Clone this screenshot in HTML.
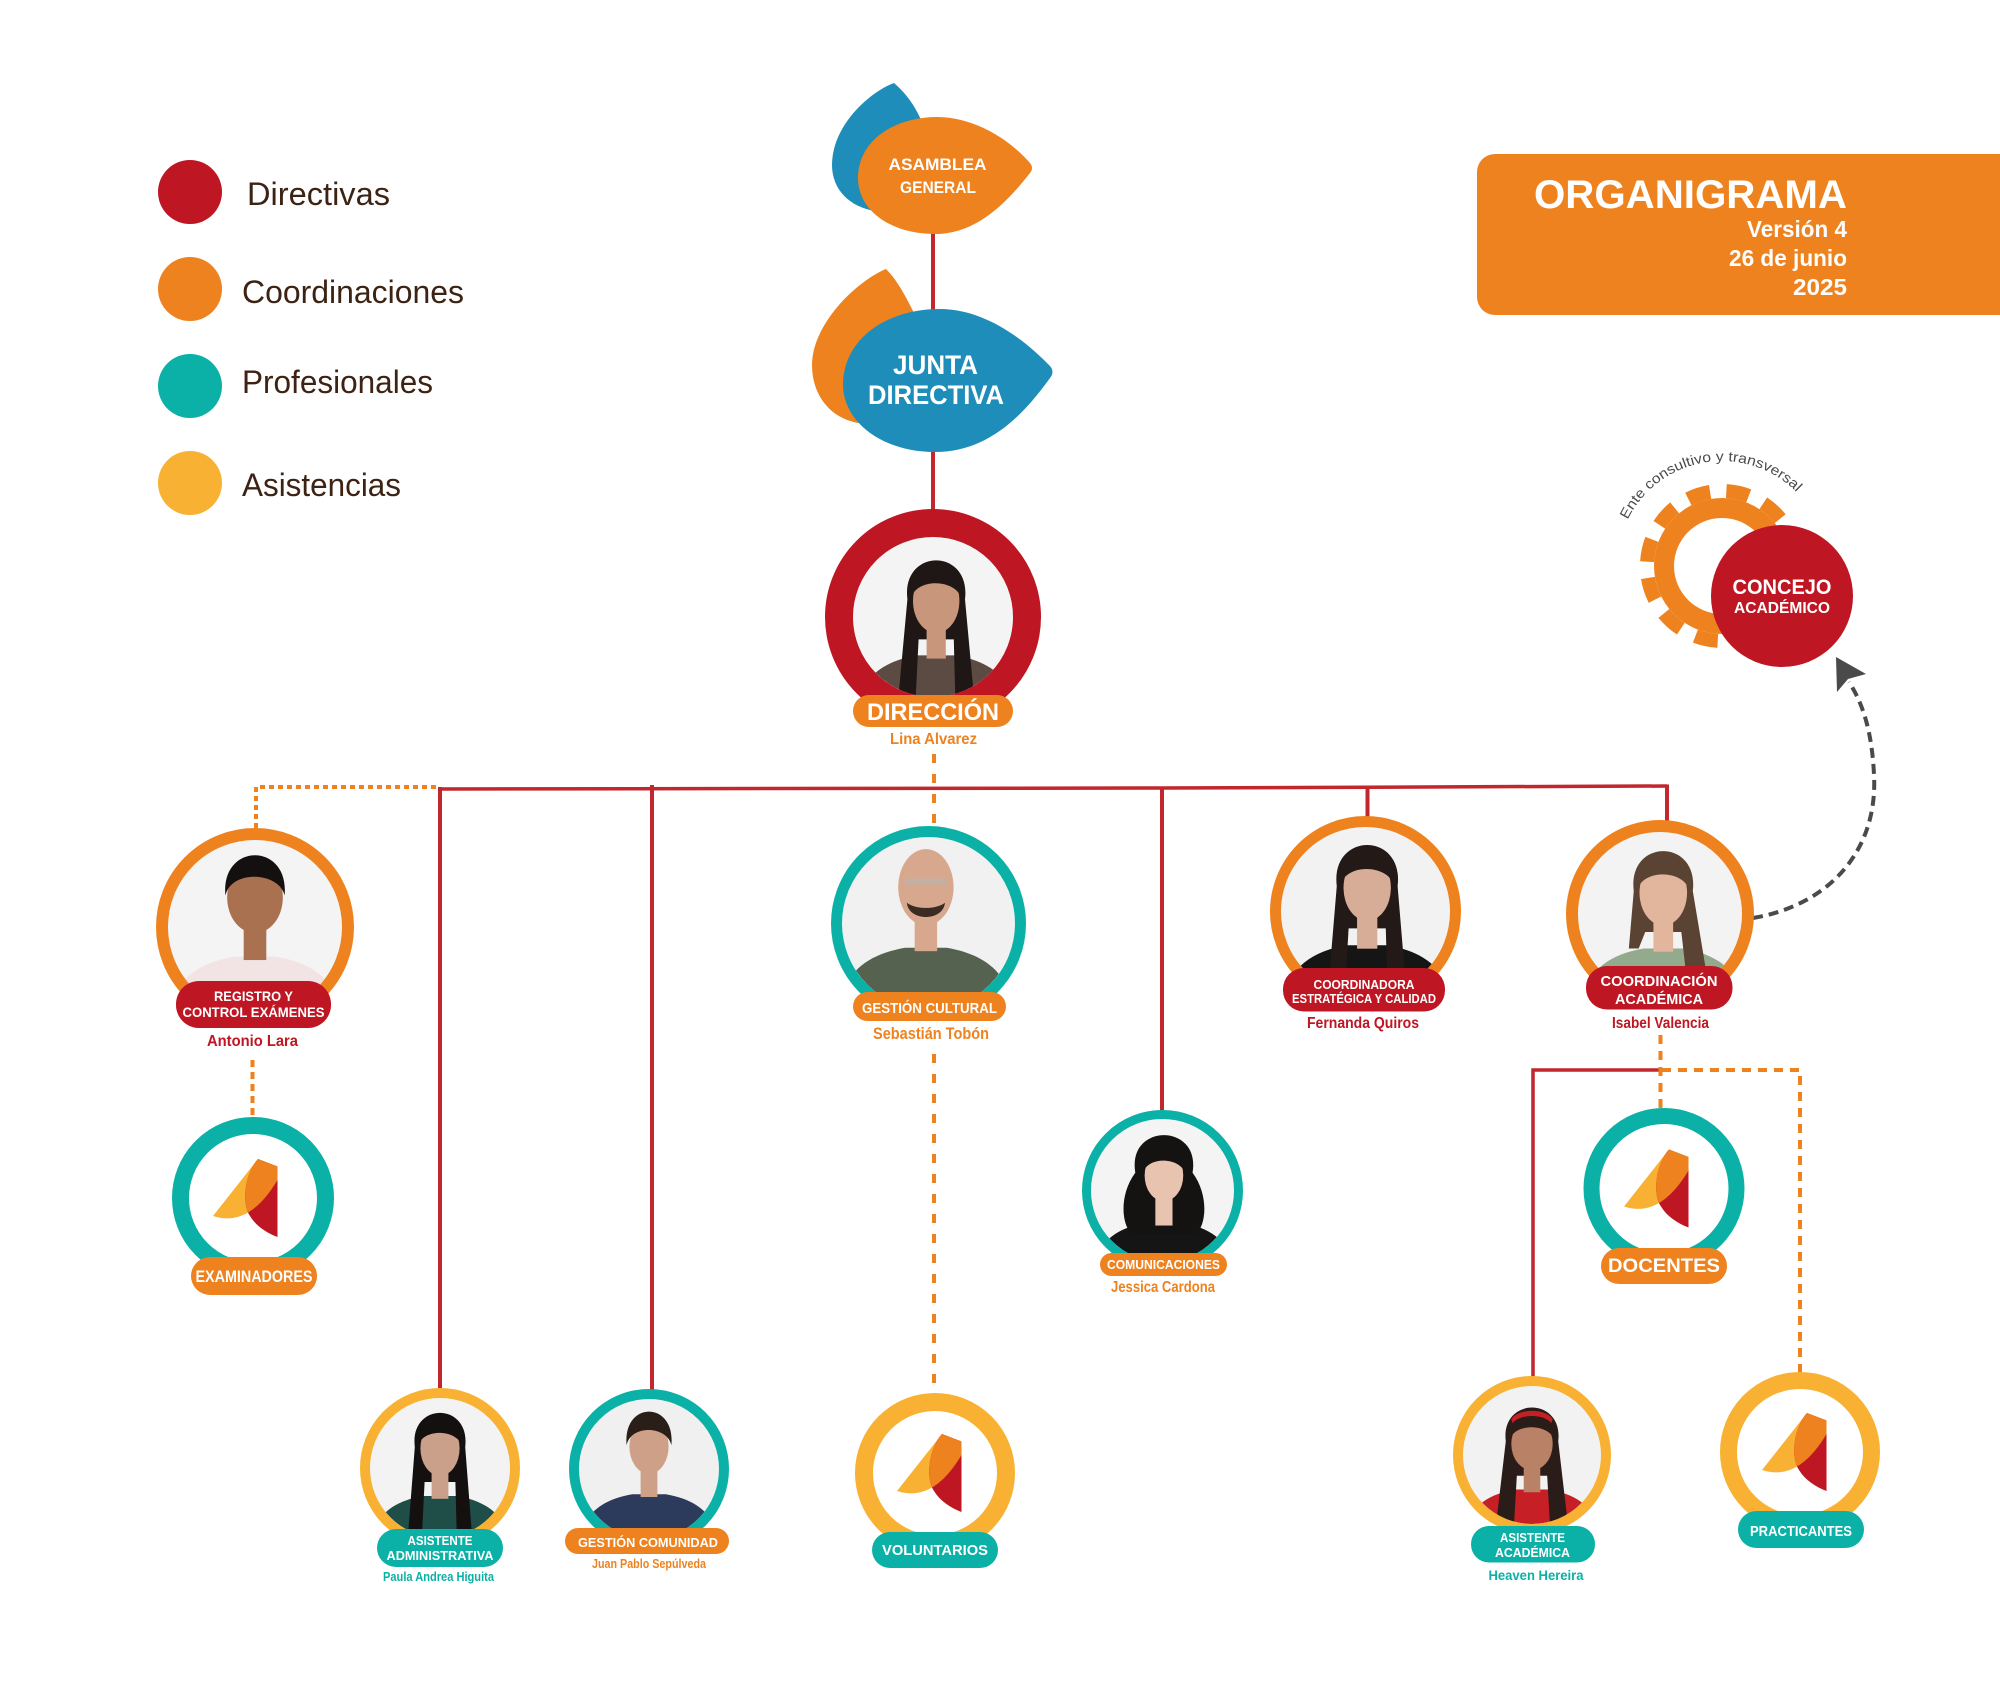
<!DOCTYPE html>
<html>
<head>
<meta charset="utf-8">
<style>
html,body{margin:0;padding:0;background:#fff;}
body{width:2000px;height:1681px;overflow:hidden;}
svg{display:block;}
.b{font-family:"Liberation Sans",sans-serif;font-weight:700;}
.r{font-family:"Liberation Sans",sans-serif;font-weight:400;}
</style>
</head>
<body>
<svg width="2000" height="1681" viewBox="0 0 2000 1681" xmlns="http://www.w3.org/2000/svg">
<defs>
  <clipPath id="pc"><circle cx="0" cy="0" r="100"/></clipPath>
  <clipPath id="ly"><path d="M5,-39 L-40,18 Q-4,30 24.5,-18 L24.5,-31.5 Z"/></clipPath>
  <g id="logo">
    <path d="M5,-39 L-40,18 Q-4,30 24.5,-18 L24.5,-31.5 Z" fill="#F8B133"/>
    <path d="M5,-39 C-8,-25 -12,5 -3,18 C3,28 14,35 24.5,39 L24.5,-31.5 Z" fill="#BE1622"/>
    <path d="M5,-39 C-8,-25 -12,5 -3,18 C3,28 14,35 24.5,39 L24.5,-31.5 Z" fill="#EE821E" clip-path="url(#ly)"/>
  </g>
  <path id="arc" d="M1626.8,521.6 A105,105 0 0 1 1797.5,493.1" fill="none"/>
</defs>

<!-- LEGEND -->
<circle cx="190" cy="192" r="32" fill="#BE1622"/>
<circle cx="190" cy="289" r="32" fill="#EE821E"/>
<circle cx="190" cy="386" r="32" fill="#0BB1A6"/>
<circle cx="190" cy="483" r="32" fill="#F8B133"/>
<g class="r" font-size="32" fill="#3C2314">
  <text x="247" y="205" textLength="143" lengthAdjust="spacingAndGlyphs">Directivas</text>
  <text x="242" y="303" textLength="222" lengthAdjust="spacingAndGlyphs">Coordinaciones</text>
  <text x="242" y="393" textLength="191" lengthAdjust="spacingAndGlyphs">Profesionales</text>
  <text x="242" y="496" textLength="159" lengthAdjust="spacingAndGlyphs">Asistencias</text>
</g>

<!-- TITLE BOX -->
<rect x="1477" y="154" width="600" height="161" rx="18" fill="#EE821E"/>
<g class="b" fill="#fff">
  <text x="1534" y="208" font-size="40" textLength="313" lengthAdjust="spacingAndGlyphs">ORGANIGRAMA</text>
  <text x="1847" y="237" font-size="23" text-anchor="end" textLength="100" lengthAdjust="spacingAndGlyphs">Versión 4</text>
  <text x="1847" y="266" font-size="23" text-anchor="end" textLength="118" lengthAdjust="spacingAndGlyphs">26 de junio</text>
  <text x="1847" y="295" font-size="23" text-anchor="end" textLength="54" lengthAdjust="spacingAndGlyphs">2025</text>
</g>

<!-- CONNECTORS -->
<g fill="none" stroke-linecap="butt">
  <line x1="933" y1="230" x2="933" y2="515" stroke="#C1272D" stroke-width="4"/>
  <polyline points="438,789 1162,788 1667,786" stroke="#C1272D" stroke-width="3.5"/>
  <line x1="440" y1="787" x2="440" y2="1390" stroke="#C1272D" stroke-width="4"/>
  <line x1="652" y1="785" x2="652" y2="1390" stroke="#C1272D" stroke-width="4"/>
  <line x1="1162" y1="788" x2="1162" y2="1112" stroke="#C1272D" stroke-width="4"/>
  <line x1="1367.5" y1="786" x2="1367.5" y2="818" stroke="#C1272D" stroke-width="4"/>
  <line x1="1667" y1="784.5" x2="1667" y2="822" stroke="#C1272D" stroke-width="4"/>
  <polyline points="1660,1070 1533,1070 1533,1378" stroke="#C1272D" stroke-width="3.5"/>

  <polyline points="436,787 256,787 256,830" stroke="#EE821E" stroke-width="4" stroke-dasharray="5 4"/>
  <line x1="252.5" y1="1060" x2="252.5" y2="1118" stroke="#EE821E" stroke-width="4" stroke-dasharray="7 5"/>
  <line x1="934" y1="754" x2="934" y2="827" stroke="#EE821E" stroke-width="4" stroke-dasharray="9 11"/>
  <line x1="934" y1="1054" x2="934" y2="1394" stroke="#EE821E" stroke-width="4" stroke-dasharray="9 11"/>
  <line x1="1660.5" y1="1035" x2="1660.5" y2="1109" stroke="#EE821E" stroke-width="4" stroke-dasharray="9 7"/>
  <polyline points="1662,1070 1800,1070 1800,1392" stroke="#EE821E" stroke-width="4" stroke-dasharray="9 7"/>

  <path d="M1753,918 C1830,905 1878,850 1874,775 C1872,730 1862,702 1849,682" stroke="#4a4a4a" stroke-width="4" stroke-dasharray="10 6"/>
</g>
<polygon points="1836,657 1866,674 1848,679 1837,692" fill="#4a4a4a"/>

<!-- ASAMBLEA -->
<path d="M894,83 C870,92 832,125 832,165 C832,190 850,207 875,211 L930,200 L925,130 C918,110 908,95 894,83 Z" fill="#1E8DBA"/>
<path d="M937,117 C975,117 1010,140 1030,163 Q1034,168 1030,173 C1005,205 975,234 935,234 C890,234 858,210 858,178 C858,140 895,117 937,117 Z" fill="#EE821E"/>
<g class="b" fill="#fff" font-size="16.5" text-anchor="middle">
  <text x="937.5" y="170" textLength="98" lengthAdjust="spacingAndGlyphs">ASAMBLEA</text>
  <text x="938" y="193" textLength="76" lengthAdjust="spacingAndGlyphs">GENERAL</text>
</g>

<!-- JUNTA -->
<path d="M886,269 C855,282 812,325 812,365 C812,395 830,418 858,423 L920,410 L915,315 C905,295 897,280 886,269 Z" fill="#EE821E"/>
<path d="M940,309 C985,309 1025,340 1050,366 Q1055,372 1050,378 C1020,420 985,452 935,452 C880,452 843,420 843,385 C843,340 885,309 940,309 Z" fill="#1E8DBA"/>
<g class="b" fill="#fff" font-size="27" text-anchor="middle">
  <text x="935.5" y="374" textLength="85" lengthAdjust="spacingAndGlyphs">JUNTA</text>
  <text x="936" y="404" textLength="136" lengthAdjust="spacingAndGlyphs">DIRECTIVA</text>
</g>

<!-- GEAR + CONCEJO -->
<circle cx="1722" cy="566" r="68" fill="#EE821E"/>
<circle cx="1722" cy="566" r="75" fill="none" stroke="#EE821E" stroke-width="14" stroke-dasharray="22.9 16.37" stroke-dashoffset="-4.25"/>
<circle cx="1722" cy="566" r="48" fill="#fff"/>
<circle cx="1782" cy="596" r="71" fill="#BE1622"/>
<g class="b" fill="#fff" text-anchor="middle">
  <text x="1782" y="594" font-size="21" textLength="99" lengthAdjust="spacingAndGlyphs">CONCEJO</text>
  <text x="1782" y="613" font-size="16" textLength="96" lengthAdjust="spacingAndGlyphs">ACADÉMICO</text>
</g>
<text class="r" font-size="14" fill="#4a4a4a"><textPath href="#arc" startOffset="2" textLength="200" lengthAdjust="spacingAndGlyphs">Ente consultivo y transversal</textPath></text>

<!-- ===== PHOTO NODES ===== -->

<!-- DIRECCION: Lina -->
<g transform="translate(933,617) scale(0.8)"><g clip-path="url(#pc)">
  <rect x="-100" y="-100" width="200" height="200" fill="#f4f4f4"/>
  <g transform="translate(4,8)">
    <path d="M-100,110 C-95,70 -70,48 -24,40 L24,40 C70,48 95,70 100,110 Z" fill="#5b4b43"/>
    <path d="M-36,-30 C-44,-95 44,-95 36,-30 L48,100 L24,100 L22,20 L-22,20 L-26,100 L-48,100 Z" fill="#1e1715"/>
    <rect x="-12" y="0" width="24" height="44" fill="#c8977b"/>
    <ellipse cx="0" cy="-28" rx="29" ry="40" fill="#c8977b"/>
    <path d="M-32,-30 C-36,-88 36,-88 32,-30 C26,-56 -26,-58 -32,-30 Z" fill="#1e1715"/>
  </g>
</g></g>
<circle cx="933" cy="617" r="94" fill="none" stroke="#BE1622" stroke-width="28"/>

<!-- REGISTRO: Antonio -->
<g transform="translate(255,927) scale(0.87)"><g clip-path="url(#pc)">
  <rect x="-100" y="-100" width="200" height="200" fill="#f4f4f4"/>
  <g transform="translate(0,-6)">
    <path d="M-100,110 C-95,70 -70,48 -24,40 L24,40 C70,48 95,70 100,110 Z" fill="#f2e4e4"/>
    <rect x="-13" y="0" width="26" height="44" fill="#a9714f"/>
    <ellipse cx="0" cy="-28" rx="32" ry="41" fill="#a9714f"/>
    <path d="M-34,-30 C-40,-92 40,-92 34,-30 C28,-58 -28,-60 -34,-30 Z" fill="#151010"/>
  </g>
</g></g>
<circle cx="255" cy="927" r="93" fill="none" stroke="#EE821E" stroke-width="12"/>

<!-- GESTION CULTURAL: Sebastian -->
<g transform="translate(928.5,923.5) scale(0.865)"><g clip-path="url(#pc)">
  <rect x="-100" y="-100" width="200" height="200" fill="#f1f1f1"/>
  <g transform="translate(-3,-12)">
    <path d="M-100,110 C-95,70 -70,48 -24,40 L24,40 C70,48 95,70 100,110 Z" fill="#55624f"/>
    <rect x="-13" y="0" width="26" height="44" fill="#d7a88e"/>
    <ellipse cx="0" cy="-30" rx="32" ry="44" fill="#d7a88e"/>
    <path d="M-22,-12 C-20,10 20,10 22,-12 C12,-4 -12,-4 -22,-12 Z" fill="#3b2b22"/>
    <rect x="-24" y="-40" width="48" height="7" fill="#b9b3ad" opacity="0.7"/>
  </g>
</g></g>
<circle cx="928.5" cy="923.5" r="92" fill="none" stroke="#0BB1A6" stroke-width="11"/>

<!-- COMUNICACIONES: Jessica -->
<g transform="translate(1162.5,1190.5) scale(0.715)"><g clip-path="url(#pc)">
  <rect x="-100" y="-100" width="200" height="200" fill="#f4f4f4"/>
  <g transform="translate(2,5)">
    <path d="M-100,110 C-95,70 -70,48 -24,40 L24,40 C70,48 95,70 100,110 Z" fill="#151515"/>
    <path d="M-40,-30 C-52,-100 52,-100 40,-30 C62,0 60,40 46,55 L-46,55 C-60,40 -62,0 -40,-30 Z" fill="#151212"/>
    <rect x="-12" y="0" width="24" height="44" fill="#e8c3b0"/>
    <ellipse cx="0" cy="-26" rx="27" ry="36" fill="#e8c3b0"/>
    <path d="M-30,-28 C-34,-86 34,-86 30,-28 C24,-52 -24,-54 -30,-28 Z" fill="#151212"/>
  </g>
</g></g>
<circle cx="1162.5" cy="1190.5" r="76" fill="none" stroke="#0BB1A6" stroke-width="9"/>

<!-- COORDINADORA: Fernanda -->
<g transform="translate(1365.5,911.5) scale(0.845)"><g clip-path="url(#pc)">
  <rect x="-100" y="-100" width="200" height="200" fill="#f2f2f2"/>
  <g transform="translate(2,0)">
    <path d="M-100,110 C-95,70 -70,48 -24,40 L24,40 C70,48 95,70 100,110 Z" fill="#151515"/>
    <path d="M-36,-30 C-44,-95 44,-95 36,-30 L46,90 L24,90 L22,20 L-22,20 L-26,90 L-46,90 Z" fill="#231a18"/>
    <rect x="-12" y="0" width="24" height="44" fill="#d8ad97"/>
    <ellipse cx="0" cy="-28" rx="28" ry="39" fill="#d8ad97"/>
    <path d="M-32,-30 C-36,-88 36,-88 32,-30 C26,-56 -26,-58 -32,-30 Z" fill="#231a18"/>
  </g>
</g></g>
<circle cx="1365.5" cy="911.5" r="90" fill="none" stroke="#EE821E" stroke-width="11"/>

<!-- COORDINACION ACADEMICA: Isabel -->
<g transform="translate(1660,914) scale(0.82)"><g clip-path="url(#pc)">
  <rect x="-100" y="-100" width="200" height="200" fill="#f3f3f3"/>
  <g transform="translate(4,2)">
    <path d="M-100,110 C-95,70 -70,48 -24,40 L24,40 C70,48 95,70 100,110 Z" fill="#94aa8c"/>
    <path d="M-36,-30 C-44,-95 44,-95 36,-30 L56,90 L30,90 L22,20 L-22,20 L-30,40 L-42,40 Z" fill="#5b4333"/>
    <rect x="-12" y="0" width="24" height="44" fill="#e2b59d"/>
    <ellipse cx="0" cy="-28" rx="29" ry="40" fill="#e2b59d"/>
    <path d="M-32,-30 C-36,-88 36,-88 32,-30 C26,-56 -26,-58 -32,-30 Z" fill="#5b4333"/>
  </g>
</g></g>
<circle cx="1660" cy="914" r="88" fill="none" stroke="#EE821E" stroke-width="12"/>

<!-- ASISTENTE ADMIN: Paula -->
<g transform="translate(440,1468) scale(0.70)"><g clip-path="url(#pc)">
  <rect x="-100" y="-100" width="200" height="200" fill="#f3f3f3"/>
  <g transform="translate(0,0)">
    <path d="M-100,110 C-95,70 -70,48 -24,40 L24,40 C70,48 95,70 100,110 Z" fill="#1f4d47"/>
    <path d="M-36,-30 C-44,-95 44,-95 36,-30 L46,100 L24,100 L22,20 L-22,20 L-26,100 L-46,100 Z" fill="#141010"/>
    <rect x="-12" y="0" width="24" height="44" fill="#caa08a"/>
    <ellipse cx="0" cy="-28" rx="28" ry="39" fill="#caa08a"/>
    <path d="M-32,-30 C-36,-88 36,-88 32,-30 C26,-56 -26,-58 -32,-30 Z" fill="#141010"/>
  </g>
</g></g>
<circle cx="440" cy="1468" r="75" fill="none" stroke="#F8B133" stroke-width="10"/>

<!-- GESTION COMUNIDAD: Juan Pablo -->
<g transform="translate(649,1469) scale(0.70)"><g clip-path="url(#pc)">
  <rect x="-100" y="-100" width="200" height="200" fill="#f0f0f0"/>
  <g transform="translate(0,-4)">
    <path d="M-100,110 C-95,70 -70,48 -24,40 L24,40 C70,48 95,70 100,110 Z" fill="#2c3a5b"/>
    <rect x="-12" y="0" width="24" height="44" fill="#cfa088"/>
    <ellipse cx="0" cy="-28" rx="28" ry="39" fill="#cfa088"/>
    <path d="M-32,-30 C-38,-94 38,-94 32,-30 C26,-58 -26,-60 -32,-30 Z" fill="#2a1e18"/>
  </g>
</g></g>
<circle cx="649" cy="1469" r="75" fill="none" stroke="#0BB1A6" stroke-width="10"/>

<!-- ASISTENTE ACADEMICA: Heaven -->
<g transform="translate(1532,1455) scale(0.69)"><g clip-path="url(#pc)">
  <rect x="-100" y="-100" width="200" height="200" fill="#f2f2f2"/>
  <g transform="translate(0,10)">
    <path d="M-100,110 C-95,70 -70,48 -24,40 L24,40 C70,48 95,70 100,110 Z" fill="#c61f26"/>
    <path d="M-38,-30 C-46,-95 46,-95 38,-30 L52,90 L26,90 L22,20 L-22,20 L-26,90 L-52,90 Z" fill="#2a1c18"/>
    <rect x="-12" y="0" width="24" height="44" fill="#b98266"/>
    <ellipse cx="0" cy="-26" rx="30" ry="38" fill="#b98266"/>
    <path d="M-33,-30 C-37,-88 37,-88 33,-30 C27,-56 -27,-58 -33,-30 Z" fill="#2a1c18"/>
    <path d="M-30,-62 C-20,-78 20,-78 30,-62 L28,-56 C18,-70 -18,-70 -28,-56 Z" fill="#c61f26"/>
  </g>
</g></g>
<circle cx="1532" cy="1455" r="74" fill="none" stroke="#F8B133" stroke-width="10"/>

<!-- ===== LOGO NODES ===== -->
<circle cx="253" cy="1198" r="72.5" fill="#fff" stroke="#0BB1A6" stroke-width="17"/>
<use href="#logo" transform="translate(253,1198)"/>

<circle cx="935" cy="1473" r="71" fill="#fff" stroke="#F8B133" stroke-width="18"/>
<use href="#logo" transform="translate(937,1473)"/>

<circle cx="1664" cy="1188.5" r="72.5" fill="#fff" stroke="#0BB1A6" stroke-width="16"/>
<use href="#logo" transform="translate(1664,1188.5)"/>

<circle cx="1800" cy="1452" r="71.5" fill="#fff" stroke="#F8B133" stroke-width="17"/>
<use href="#logo" transform="translate(1802,1452)"/>

<!-- ===== PILLS ===== -->
<rect x="853" y="695" width="160" height="32" rx="16" fill="#EE821E"/>
<rect x="176" y="981" width="155" height="47" rx="23" fill="#BE1622"/>
<rect x="191" y="1257" width="126" height="38" rx="19" fill="#EE821E"/>
<rect x="377" y="1529" width="126" height="38" rx="19" fill="#0BB1A6"/>
<rect x="565" y="1528" width="164" height="26" rx="13" fill="#EE821E"/>
<rect x="872" y="1532" width="126" height="36" rx="18" fill="#0BB1A6"/>
<rect x="853" y="992" width="153" height="29" rx="14.5" fill="#EE821E"/>
<rect x="1100" y="1253" width="127" height="23" rx="11.5" fill="#EE821E"/>
<rect x="1283" y="968" width="162" height="43.5" rx="21" fill="#BE1622"/>
<rect x="1586" y="966" width="146.5" height="43.5" rx="21" fill="#BE1622"/>
<rect x="1601" y="1248" width="126" height="36" rx="18" fill="#EE821E"/>
<rect x="1471" y="1526" width="124" height="36.5" rx="18" fill="#0BB1A6"/>
<rect x="1738" y="1511" width="126" height="37" rx="18.5" fill="#0BB1A6"/>

<g class="b" fill="#fff" text-anchor="middle">
  <text x="933" y="720" font-size="24" textLength="132" lengthAdjust="spacingAndGlyphs">DIRECCIÓN</text>
  <text x="253.5" y="1001" font-size="14" textLength="79" lengthAdjust="spacingAndGlyphs">REGISTRO Y</text>
  <text x="253.5" y="1017" font-size="14" textLength="142" lengthAdjust="spacingAndGlyphs">CONTROL EXÁMENES</text>
  <text x="254" y="1282" font-size="17" textLength="117" lengthAdjust="spacingAndGlyphs">EXAMINADORES</text>
  <text x="440" y="1545" font-size="12.5" textLength="65" lengthAdjust="spacingAndGlyphs">ASISTENTE</text>
  <text x="440" y="1560" font-size="12.5" textLength="107" lengthAdjust="spacingAndGlyphs">ADMINISTRATIVA</text>
  <text x="648" y="1547" font-size="13" textLength="140" lengthAdjust="spacingAndGlyphs">GESTIÓN COMUNIDAD</text>
  <text x="935" y="1555" font-size="15" textLength="106" lengthAdjust="spacingAndGlyphs">VOLUNTARIOS</text>
  <text x="929.5" y="1013" font-size="15" textLength="135" lengthAdjust="spacingAndGlyphs">GESTIÓN CULTURAL</text>
  <text x="1163.5" y="1269" font-size="13" textLength="113" lengthAdjust="spacingAndGlyphs">COMUNICACIONES</text>
  <text x="1364" y="989" font-size="13" textLength="101" lengthAdjust="spacingAndGlyphs">COORDINADORA</text>
  <text x="1364" y="1003" font-size="13" textLength="144" lengthAdjust="spacingAndGlyphs">ESTRATÉGICA Y CALIDAD</text>
  <text x="1659" y="986" font-size="15" textLength="117" lengthAdjust="spacingAndGlyphs">COORDINACIÓN</text>
  <text x="1659" y="1004" font-size="15" textLength="88" lengthAdjust="spacingAndGlyphs">ACADÉMICA</text>
  <text x="1664" y="1272" font-size="19" textLength="112" lengthAdjust="spacingAndGlyphs">DOCENTES</text>
  <text x="1532.5" y="1542" font-size="13" textLength="65" lengthAdjust="spacingAndGlyphs">ASISTENTE</text>
  <text x="1532.5" y="1557" font-size="13" textLength="75" lengthAdjust="spacingAndGlyphs">ACADÉMICA</text>
  <text x="1801" y="1536" font-size="15" textLength="102" lengthAdjust="spacingAndGlyphs">PRACTICANTES</text>
</g>

<!-- NAMES -->
<g class="b" text-anchor="middle">
  <text x="933.5" y="744" font-size="16" fill="#EE821E" textLength="87" lengthAdjust="spacingAndGlyphs">Lina Alvarez</text>
  <text x="252.5" y="1046" font-size="16" fill="#BE1622" textLength="91" lengthAdjust="spacingAndGlyphs">Antonio Lara</text>
  <text x="931" y="1039" font-size="17" fill="#EE821E" textLength="116" lengthAdjust="spacingAndGlyphs">Sebastián Tobón</text>
  <text x="1163" y="1292" font-size="16" fill="#EE821E" textLength="104" lengthAdjust="spacingAndGlyphs">Jessica Cardona</text>
  <text x="1363" y="1028" font-size="16" fill="#BE1622" textLength="112" lengthAdjust="spacingAndGlyphs">Fernanda Quiros</text>
  <text x="1660.5" y="1028" font-size="16" fill="#BE1622" textLength="97" lengthAdjust="spacingAndGlyphs">Isabel Valencia</text>
  <text x="438.5" y="1581" font-size="12.5" fill="#0BB1A6" textLength="111" lengthAdjust="spacingAndGlyphs">Paula Andrea Higuita</text>
  <text x="649" y="1568" font-size="12.5" fill="#EE821E" textLength="114" lengthAdjust="spacingAndGlyphs">Juan Pablo Sepúlveda</text>
  <text x="1536" y="1580" font-size="14" fill="#0BB1A6" textLength="95" lengthAdjust="spacingAndGlyphs">Heaven Hereira</text>
</g>
</svg>
</body>
</html>
